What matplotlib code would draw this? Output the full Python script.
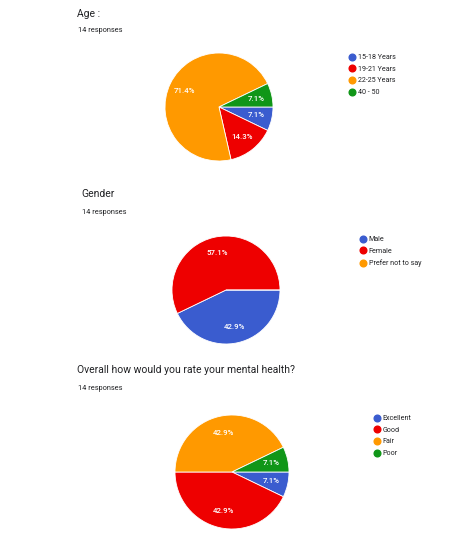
import matplotlib
matplotlib.use("Agg")
import matplotlib.pyplot as plt
from matplotlib.lines import Line2D

plt.rcParams['font.family'] = ['Roboto', 'DejaVu Sans']

# data (counts out of 14 responses)
age_labels = ["15-18 Years", "19-21 Years", "22-25 Years", "40 - 50"]
age_counts = [1, 2, 10, 1]

gender_labels = ["Male", "Female", "Prefer not to say"]
gender_counts = [6, 8, 0]

mh_labels = ["Excellent", "Good", "Fair", "Poor"]
mh_counts = [1, 6, 6, 1]

titles = ["Age :", "Gender", "Overall how would you rate your mental health?"]
subtitle = "14 responses"

colors = ["#3a5ccf", "#ee0000", "#ff9900", "#109618"]

W, H = 455, 534
fig = plt.figure(figsize=(W / 100, H / 100), dpi=100)
fig.patch.set_facecolor("white")


def fx(x):
    return x / W


def fy(y):
    return 1 - y / H


def pct(p):
    return "" if p < 0.5 else "%.1f%%" % p


charts = [
    # title xy, subtitle y, pie center, radius, legend top-left
    (age_labels, age_counts, (77, 14), 30, (219, 107), 54, (349, 54)),
    (gender_labels, gender_counts, (81, 194), 212, (226, 290), 54, (360, 236)),
    (mh_labels, mh_counts, (77, 370), 388, (232, 472), 57, (374, 415)),
]

for i, (labels, counts, tpos, sy, c, r, lpos) in enumerate(charts):
    fig.text(fx(tpos[0]), fy(tpos[1]), titles[i], fontsize=7.5, color="#202124",
             va="center", ha="left")
    fig.text(fx(tpos[0] + 1), fy(sy), subtitle, fontsize=5.3, color="#202124",
             va="center", ha="left")

    ax = fig.add_axes([fx(c[0] - r), fy(c[1] + r), 2 * r / W, 2 * r / H])
    ax.pie(counts, colors=colors[:len(counts)], startangle=0, counterclock=False,
           autopct=pct, pctdistance=0.7,
           wedgeprops=dict(edgecolor="white", linewidth=0.6),
           textprops=dict(color="white", fontsize=5.7, fontweight="medium"))
    ax.set_xlim(-1, 1)
    ax.set_ylim(-1, 1)
    ax.set_aspect("equal")
    ax.axis("off")

    handles = [Line2D([], [], marker="o", linestyle="none", markersize=4.8,
                      markerfacecolor=colors[j], markeredgecolor=colors[j])
               for j in range(len(labels))]
    fig.legend(handles, labels, loc="upper left",
               bbox_to_anchor=(fx(lpos[0]), fy(lpos[1])),
               frameon=False, fontsize=5.1, borderpad=0, borderaxespad=0,
               handlelength=0.8, handletextpad=0.45, labelspacing=0.66,
               labelcolor="#202124")

fig.savefig("out.png", dpi=100, facecolor="white")
